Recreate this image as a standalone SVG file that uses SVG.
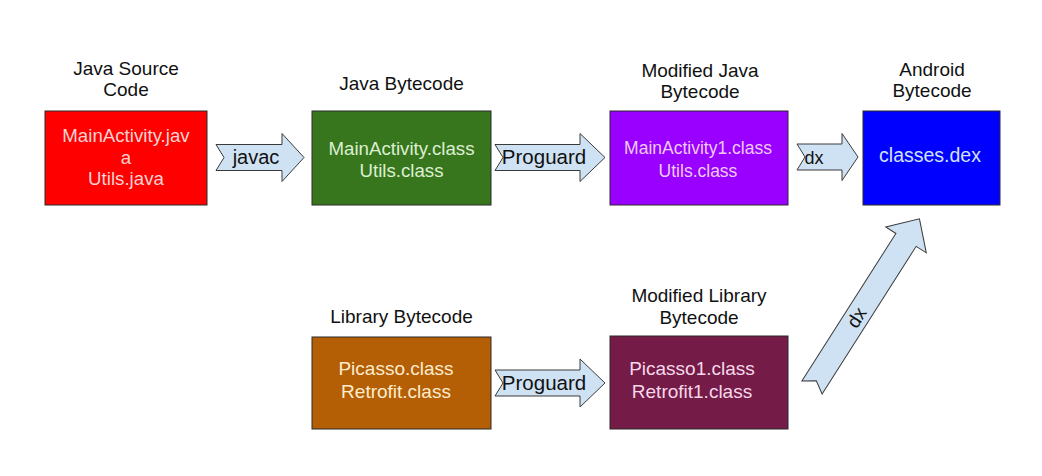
<svg xmlns="http://www.w3.org/2000/svg" width="1042" height="476" viewBox="0 0 1042 476">
<style>
.h{font-family:"Liberation Sans",Arial,sans-serif;font-size:19px;fill:#111;text-anchor:middle}
.t{font-family:"Liberation Sans",Arial,sans-serif;font-size:18.7px;text-anchor:middle}
.box{stroke:#2a2a2a;stroke-width:1}
.arr{fill:#cfe2f3;stroke:#3a3a3a;stroke-width:1;stroke-linejoin:miter}
.al{font-family:"Liberation Sans",Arial,sans-serif;font-size:20px;fill:#111;text-anchor:middle}
</style>
<rect width="1042" height="476" fill="#ffffff"/>
<g id="java-source">
<text class="h" x="126" y="75">Java Source</text>
<text class="h" x="126" y="96">Code</text>
<rect class="box" x="45" y="111" width="162" height="94" fill="#ff0000"/>
<text class="t" x="126" y="142" fill="#f6d2d2">MainActivity.jav</text>
<text class="t" x="126" y="163.5" fill="#f6d2d2">a</text>
<text class="t" x="126" y="185" fill="#f6d2d2">Utils.java</text>
</g>
<g id="java-bytecode">
<text class="h" x="401.5" y="90">Java Bytecode</text>
<rect class="box" x="312" y="111" width="179" height="94" fill="#38761d"/>
<text class="t" x="401.5" y="155" fill="#dcefd2">MainActivity.class</text>
<text class="t" x="401.5" y="177" fill="#dcefd2">Utils.class</text>
</g>
<g id="modified-java-bytecode">
<text class="h" x="700" y="77">Modified Java</text>
<text class="h" x="700" y="98">Bytecode</text>
<rect class="box" x="610" y="111" width="178" height="94" fill="#9900ff"/>
<text class="t" x="698" y="154" fill="#f0caf2" style="font-size:17.5px">MainActivity1.class</text>
<text class="t" x="698" y="176.5" fill="#f0caf2" style="font-size:17.5px">Utils.class</text>
</g>
<g id="android-bytecode">
<text class="h" x="932" y="75.5">Android</text>
<text class="h" x="932" y="96.5">Bytecode</text>
<rect class="box" x="863" y="111" width="137" height="94" fill="#0000ff"/>
<text class="t" x="930" y="161.5" fill="#d2e2f6" style="font-size:19.5px">classes.dex</text>
</g>
<g id="library-bytecode">
<text class="h" x="401.5" y="323">Library Bytecode</text>
<rect class="box" x="312" y="337" width="179" height="92" fill="#b45f06"/>
<text class="t" x="396" y="375" fill="#fdeccc" style="font-size:19px">Picasso.class</text>
<text class="t" x="396" y="397.5" fill="#fdeccc" style="font-size:19px">Retrofit.class</text>
</g>
<g id="modified-library-bytecode">
<text class="h" x="699" y="302">Modified Library</text>
<text class="h" x="699" y="324">Bytecode</text>
<rect class="box" x="610" y="336" width="178" height="93" fill="#741b47"/>
<text class="t" x="692" y="375" fill="#f6d8ea" style="font-size:19px">Picasso1.class</text>
<text class="t" x="692" y="397.5" fill="#f6d8ea" style="font-size:19px">Retrofit1.class</text>
</g>
<g id="connectors">
<g id="javac">
<path class="arr" d="M216,144.5 L282,144.5 L282,133.5 L304,157.5 L282,181.5 L282,170.5 L216,170.5 L224,157.5 Z"/>
<text class="al" x="256" y="164">javac</text>
</g>
<g id="proguard-1">
<path class="arr" d="M495,144.5 L580,144.5 L580,133.5 L605,157.5 L580,181.5 L580,170.5 L495,170.5 L503,157.5 Z"/>
<text class="al" x="544" y="164" style="font-size:20.5px">Proguard</text>
</g>
<g id="dx-1">
<path class="arr" d="M797,144 L842,144 L842,133.5 L858,157 L842,180.5 L842,170 L797,170 L805,157 Z"/>
<text class="al" x="814" y="163.5" style="font-size:18px">dx</text>
</g>
<g id="proguard-2">
<path class="arr" d="M495,370 L580,370 L580,359 L605,383 L580,407 L580,396 L495,396 L503,383 Z"/>
<text class="al" x="544" y="389.5" style="font-size:20.5px">Proguard</text>
</g>
<g id="dx-2" transform="translate(812,387.5) rotate(-57.5)">
<path class="arr" d="M0,-12 L175,-12 L175,-24 L200,0 L175,24 L175,12 L0,12 L8,0 Z"/>
<text class="al" x="83" y="6.5" style="font-size:19px">dx</text>
</g>
</g>
</svg>
